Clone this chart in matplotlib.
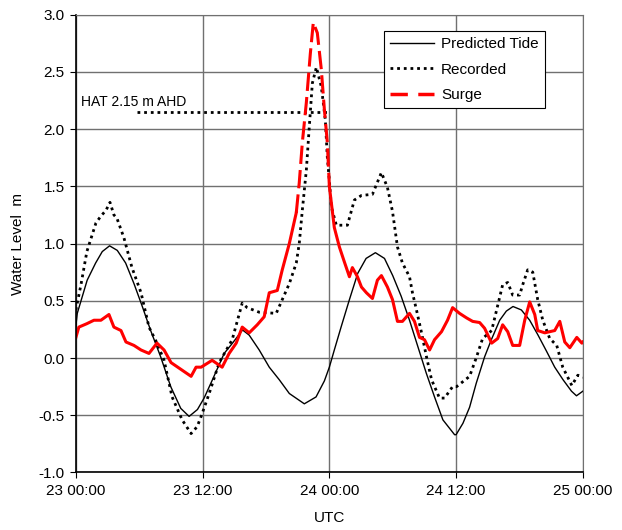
import numpy as np
import matplotlib
matplotlib.use("Agg")
import matplotlib.pyplot as plt
from matplotlib.lines import Line2D

plt.rcParams['font.family'] = ['Liberation Sans', 'DejaVu Sans']

# hours after 23 00:00 UTC, water level in m
tide_t = [0.0, 0.13, 1.07, 1.87, 2.50, 3.19, 3.92, 4.71, 5.50, 6.29, 7.08, 8.03, 8.98, 9.93,
          10.72, 11.51, 12.14, 12.93, 14.04, 14.83, 15.78, 16.41, 17.36, 18.31, 19.26, 20.21,
          21.63, 22.74, 23.53, 24.0, 24.47, 25.11, 25.90, 26.69, 27.48, 28.36, 29.22, 30.00,
          30.80, 31.59, 32.38, 33.17, 33.96, 34.75, 35.86, 36.0, 36.65, 37.28, 37.91, 38.70,
          39.34, 40.13, 40.76, 41.39, 42.18, 42.97, 43.76, 44.56, 45.34, 46.13, 46.93, 47.40, 48.0]
tide_v = [0.28, 0.39, 0.68, 0.83, 0.93, 0.98, 0.94, 0.83, 0.65, 0.45, 0.24, 0.01, -0.25, -0.44,
          -0.51, -0.45, -0.35, -0.19, 0.04, 0.13, 0.245, 0.20, 0.07, -0.08, -0.19, -0.31,
          -0.40, -0.34, -0.20, -0.08, 0.07, 0.27, 0.51, 0.74, 0.87, 0.92, 0.87, 0.72,
          0.54, 0.33, 0.10, -0.13, -0.34, -0.54, -0.67, -0.67, -0.57, -0.43, -0.22, 0.01,
          0.16, 0.33, 0.41, 0.45, 0.42, 0.33, 0.20, 0.06, -0.08, -0.19, -0.29, -0.33, -0.29]

rec_t = [0.0, 0.5, 1.04, 1.90, 2.37, 2.85, 3.23, 3.60, 3.89, 4.55, 5.31, 6.17, 6.92, 7.68,
         8.35, 9.11, 10.06, 10.91, 11.48, 11.9, 12.62, 13.57, 14.80, 15.75, 16.22, 17.36,
         18.97, 19.54, 20.21, 20.87, 21.15, 21.44, 21.82, 22.10, 22.39, 22.77, 23.24, 23.62,
         23.81, 24.0, 24.19, 24.66, 25.71, 26.37, 27.04, 28.08, 28.93, 29.50, 29.98, 30.45,
         30.92, 31.59, 31.87, 32.25, 32.73, 33.20, 33.68, 34.43, 34.91, 35.67, 36.05, 37.28,
         37.94, 38.51, 39.37, 39.84, 40.41, 40.89, 41.36, 42.02, 42.31, 42.78, 43.26, 43.73,
         44.21, 44.87, 45.53, 46.10, 46.96, 47.53, 48.0]
rec_v = [0.42, 0.65, 0.93, 1.18, 1.24, 1.29, 1.36, 1.25, 1.22, 1.05, 0.79, 0.57, 0.27, 0.13,
         -0.02, -0.34, -0.54, -0.66, -0.60, -0.50, -0.31, -0.04, 0.16, 0.48, 0.44, 0.40,
         0.39, 0.51, 0.65, 0.83, 1.00, 1.29, 1.64, 2.02, 2.40, 2.54, 2.37, 2.08,
         1.75, 1.55, 1.32, 1.16, 1.16, 1.38, 1.42, 1.43, 1.62, 1.49, 1.28, 0.97,
         0.83, 0.71, 0.57, 0.42, 0.22, 0.01, -0.19, -0.35, -0.35, -0.25, -0.25, -0.16,
         0.01, 0.17, 0.24, 0.42, 0.64, 0.66, 0.55, 0.55, 0.64, 0.77, 0.75, 0.51,
         0.33, 0.17, 0.11, -0.08, -0.24, -0.15, -0.17]

surge_t = [0.0, 0.28, 1.04, 1.71, 2.37, 3.13, 3.60, 4.27, 4.74, 5.50, 6.17, 6.92, 7.68, 8.35,
           9.01, 9.96, 10.91, 11.38, 11.86, 12.90, 13.85, 14.51, 15.18, 15.75, 16.41, 17.17,
           17.83, 18.31, 19.07, 19.54, 20.21, 20.87, 21.15, 21.44, 21.82, 22.20, 22.48, 22.86,
           23.24, 23.53, 23.81, 24.00, 24.47, 24.95, 25.42, 25.90, 26.18, 26.66, 27.04, 27.51,
           28.08, 28.55, 28.93, 29.50, 29.98, 30.45, 30.92, 31.59, 32.06, 32.54, 33.01, 33.49,
           33.96, 34.62, 35.19, 35.67, 36.33, 37.00, 37.57, 38.23, 38.70, 39.37, 39.94, 40.41,
           40.89, 41.36, 42.02, 42.50, 42.97, 43.45, 43.73, 44.40, 45.34, 45.82, 46.29, 46.77,
           47.43, 47.91, 48.0]
surge_v = [0.18, 0.27, 0.30, 0.33, 0.33, 0.38, 0.27, 0.24, 0.14, 0.11, 0.07, 0.04, 0.13, 0.07,
           -0.04, -0.10, -0.16, -0.08, -0.08, -0.02, -0.08, 0.04, 0.13, 0.27, 0.22, 0.29,
           0.36, 0.57, 0.59, 0.77, 1.00, 1.27, 1.53, 1.88, 2.23, 2.66, 2.93, 2.84,
           2.52, 2.17, 1.88, 1.50, 1.14, 0.97, 0.84, 0.71, 0.79, 0.71, 0.62, 0.57,
           0.52, 0.68, 0.72, 0.62, 0.51, 0.32, 0.32, 0.39, 0.32, 0.18, 0.16, 0.07,
           0.16, 0.23, 0.33, 0.44, 0.39, 0.35, 0.32, 0.31, 0.26, 0.13, 0.17, 0.29,
           0.23, 0.11, 0.11, 0.33, 0.49, 0.38, 0.24, 0.22, 0.24, 0.32, 0.14, 0.09,
           0.18, 0.13, 0.14]

hat_level = 2.15
hat_span = [5.8, 23.9]

tick_hours = [0, 12, 24, 36, 48]
tick_labels = ["23 00:00", "23 12:00", "24 00:00", "24 12:00", "25 00:00"]

fig = plt.figure(figsize=(6.22, 5.30), dpi=100)
ax = fig.add_axes([0.122, 0.1085, 0.815, 0.864])

ax.set_xlim(0, 48)
ax.set_ylim(-1.0, 3.0)
ax.set_xticks(tick_hours)
ax.set_xticklabels(tick_labels)
ax.set_yticks(np.arange(-1.0, 3.01, 0.5))
ax.yaxis.set_major_formatter(matplotlib.ticker.FormatStrFormatter('%.1f'))
ax.grid(True, color='#707070', linewidth=1.0)
ax.set_axisbelow(True)
for s in ['top', 'right']:
    ax.spines[s].set_color('#707070')
for s in ['left', 'bottom']:
    ax.spines[s].set_color('black')
    ax.spines[s].set_linewidth(1.2)
ax.tick_params(direction='out', length=4.5, labelsize=11, colors='black')

ax.plot(tide_t, tide_v, color='black', linewidth=1.0, label='Predicted Tide')
ax.plot(rec_t, rec_v, color='black', linewidth=2.0, linestyle=(0, (1, 1.4)), label='Recorded')
ax.plot(hat_span, [hat_level, hat_level], color='black', linewidth=2.0, linestyle=(0, (1, 1.4)))
ax.text(0.5, 2.24, "HAT 2.15 m AHD", fontsize=10, ha='left', va='center')

# surge: noisy part drawn solid, fast rise/fall around the peak dashed
i0 = surge_t.index(20.87)
i1 = surge_t.index(24.00)
ax.plot(surge_t[:i0 + 1], surge_v[:i0 + 1], color='red', linewidth=2.2, solid_joinstyle='round')
ax.plot(surge_t[i0:i1 + 1], surge_v[i0:i1 + 1], color='red', linewidth=2.2, linestyle=(0, (6, 2)))
ax.plot(surge_t[i1:], surge_v[i1:], color='red', linewidth=2.2, solid_joinstyle='round')

handles = [Line2D([], [], color='black', linewidth=1.0),
           Line2D([], [], color='black', linewidth=2.0, linestyle=(0, (1, 1.4))),
           Line2D([], [], color='red', linewidth=2.5, linestyle=(0, (5, 3)))]
leg = ax.legend(handles, ['Predicted Tide', 'Recorded', 'Surge'], loc='upper left',
                bbox_to_anchor=(0.607, 0.964), borderaxespad=0, fontsize=11,
                handlelength=2.9, handletextpad=0.45, labelspacing=0.75,
                fancybox=False, framealpha=1, edgecolor='black', borderpad=0.4)
leg.get_frame().set_linewidth(0.8)

ax.set_xlabel("UTC", fontsize=11, labelpad=10)
ax.set_ylabel("Water Level  m", fontsize=11, labelpad=10)

fig.savefig("out.png", dpi=100)
